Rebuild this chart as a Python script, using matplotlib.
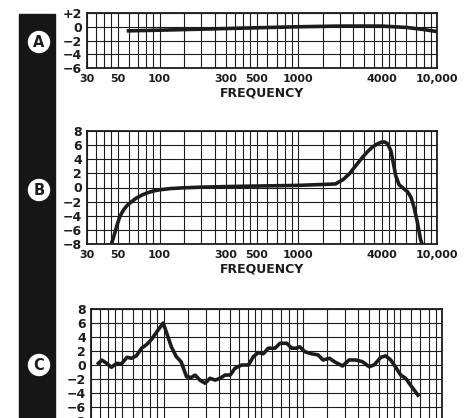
import matplotlib.pyplot as plt
from matplotlib.patches import Rectangle, Circle

# frequency grid (log chart paper) and labelled ticks
grid_freqs = [30, 35, 40, 45, 50, 60, 70, 80, 90,
              100, 150, 200, 250, 300, 350, 400, 450, 500, 600, 700, 800, 900,
              1000, 1500, 2000, 2500, 3000, 3500, 4000, 4500, 5000, 6000, 7000, 8000, 9000, 10000]
label_freqs = [30, 50, 100, 300, 500, 1000, 4000, 10000]
label_text = ['30', '50', '100', '300', '500', '1000', '4000', '10,000']

# curve A - nearly flat
freq_a = [58, 100, 200, 500, 1000, 2000, 4000, 6000, 8000, 10000]
db_a = [-0.6, -0.5, -0.35, -0.15, 0.0, 0.1, 0.1, -0.1, -0.4, -0.7]

# curve B - bass roll-off and presence peak
freq_b = [45, 47, 50, 52, 55, 58, 62, 68, 75, 82, 90, 100, 120, 147, 200, 337, 1000,
          1850, 2100, 2340, 2600, 2910, 3200, 3440, 3700, 3950, 4200, 4400, 4650,
          4850, 5050, 5330, 5700, 6130, 6500, 6830, 7200, 7600, 7800]
db_b = [-8.0, -6.8, -5.0, -4.0, -3.2, -2.6, -2.1, -1.5, -1.05, -0.75, -0.5, -0.33, -0.15,
        -0.05, 0.05, 0.15, 0.3,
        0.5, 1.1, 1.95, 3.1, 4.3, 5.2, 5.76, 6.15, 6.4, 6.45, 6.2, 5.2,
        3.4, 1.6, 0.4, -0.1, -0.6, -1.4, -2.8, -4.8, -7.3, -8.0]

# curve C - jagged response
freq_c = [33.9, 35.9, 38.9, 42.0, 45.9, 49.6, 54.4, 58.6, 63.5, 69.3, 75.2, 81.2, 88.1,
          99, 105, 113.4, 123, 133.2, 146, 158, 168, 182, 198, 215, 234, 254, 276, 300,
          325, 363, 406, 441, 478, 520, 564, 631, 685, 766, 830, 901, 951, 1032, 1152,
          1287, 1395, 1555, 1685, 1928, 2149, 2400, 2680, 2995, 3250, 3630, 3940, 4280,
          4650, 5050, 5480, 5950, 6720]
db_c = [0.24, 0.7, 0.24, -0.33, 0.24, 0.15, 1.1, 0.96, 1.3, 2.4, 2.9, 3.6, 4.6,
        6.0, 4.56, 2.6, 1.2, 0.47, -1.7, -1.77, -1.44, -2.16, -2.6, -1.9, -2.16, -1.9, -1.44, -1.44,
        -0.47, 0.0, 0.0, 1.2, 1.77, 1.6, 2.4, 2.4, 3.1, 3.1, 2.4, 2.4, 2.6, 1.9, 1.6,
        1.44, 0.72, 0.96, 0.47, -0.14, 0.72, 0.72, 0.47, -0.24, 0.0, 1.1, 1.3, 0.72,
        -0.33, -1.44, -1.9, -2.9, -4.3]

W, H = 476, 418
ink = '#1c1c1c'
font = 'DejaVu Sans'

fig = plt.figure(figsize=(W / 100, H / 100), dpi=100)
fig.patch.set_facecolor('white')


def px_axes(left, top, right, bottom):
    return fig.add_axes([left / W, 1 - bottom / H, (right - left) / W, (bottom - top) / H])


def setup(ax, ylim, yticks, ylabels, xlabels=True):
    ax.set_xscale('log')
    ax.set_xlim(30, 10000)
    ax.set_ylim(*ylim)
    ax.set_xticks(label_freqs)
    ax.set_xticks(grid_freqs, minor=True)
    ax.set_yticks(yticks)
    ax.set_yticklabels(ylabels, fontsize=9, fontweight='bold', family=font, color=ink)
    if xlabels:
        ax.set_xticklabels(label_text, fontsize=8, fontweight='bold', family=font, color=ink)
    else:
        ax.set_xticklabels([])
    ax.set_xticklabels([], minor=True)
    ax.tick_params(which='both', length=0)
    ax.tick_params(axis='x', pad=4)
    ax.tick_params(axis='y', pad=3.5)
    ax.grid(True, which='both', color=ink, linewidth=0.8)
    ax.set_axisbelow(True)
    for s in ax.spines.values():
        s.set_color(ink)
        s.set_linewidth(1.3)


# panel A
ax_a = px_axes(87, 13, 437, 68)
setup(ax_a, (-6, 2), [2, 0, -2, -4, -6], ['+2', '0', '−2', '−4', '−6'])
ax_a.plot(freq_a, db_a, color=ink, linewidth=2.6, solid_capstyle='butt')
ax_a.set_xlabel('FREQUENCY', fontsize=9, fontweight='bold', family=font, color=ink, labelpad=2)

# panel B
ax_b = px_axes(87, 131, 437, 244)
setup(ax_b, (-8, 8), list(range(8, -9, -2)), ['8', '6', '4', '2', '0', '−2', '−4', '−6', '−8'])
ax_b.plot(freq_b, db_b, color=ink, linewidth=2.6)
ax_b.set_xlabel('FREQUENCY', fontsize=9, fontweight='bold', family=font, color=ink, labelpad=2)

# panel C (runs off the bottom of the page)
ax_c = px_axes(91, 309, 442, 421)
setup(ax_c, (-8, 8), list(range(8, -9, -2)), ['8', '6', '4', '2', '0', '−2', '−4', '−6', '−8'],
      xlabels=False)
ax_c.plot(freq_c, db_c, color=ink, linewidth=2.6)

# black side bar with lettered circles
bar = fig.add_axes([0, 0, 1, 1])
bar.set_xlim(0, W)
bar.set_ylim(H, 0)
bar.axis('off')
bar.patch.set_alpha(0)
bar.add_patch(Rectangle((19, 14), 36, H - 14, color='#161616'))
for letter, cy in [('A', 42), ('B', 190), ('C', 365)]:
    bar.add_patch(Circle((39, cy), 10.5, facecolor='white', edgecolor='white'))
    bar.text(39, cy + 0.5, letter, ha='center', va='center', fontsize=10.5,
             fontweight='bold', family=font, color=ink)

fig.savefig('out.png', dpi=100, facecolor='white')
